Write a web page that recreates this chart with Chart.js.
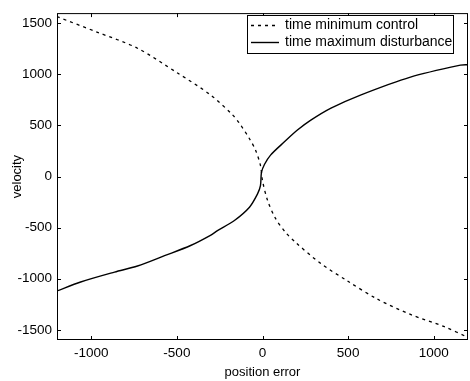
<!DOCTYPE html>
<html lang="en">
<head>
    <meta charset="UTF-8">
    <title>position error vs velocity</title>
    <style>
        body {
            margin: 0;
            padding: 0;
            background-color: #fff;
        }

        #wrap {
            width: 470px;
            height: 381px;
        }
    </style>
    <script src="https://cdn.jsdelivr.net/npm/chart.js"></script>
</head>
<body>

<div id="wrap">
    <canvas id="phaseChart" width="470" height="381"></canvas>
</div>

<script>
    // time minimum control (dashed)
    const minCtrlPos = [-1200, -963, -730, -496, -304, -175, -134, -76, -41, -12, 0, 29, 76, 134, 190, 339, 496, 671, 864, 1062, 1200];
    const minCtrlVel = [1565, 1412, 1256, 1013, 800, 604, 520, 370, 260, 110, -40, -230, -410, -545, -640, -850, -1022, -1200, -1350, -1470, -1575];

    // time maximum disturbance (solid)
    const maxDistPos = [-1200, -1062, -864, -730, -572, -420, -304, -263, -164, -76, -29, -12, -6, 12, 47, 128, 204, 280, 400, 572, 864, 1156, 1200];
    const maxDistVel = [-1120, -1032, -935, -876, -775, -675, -575, -530, -430, -300, -170, -90, 40, 120, 210, 340, 455, 550, 670, 798, 974, 1091, 1095];

    const seriesLabels = ['time minimum control', 'time maximum disturbance'];
    const xTicks = [-1000, -500, 0, 500, 1000];
    const yTicks = [-1500, -1000, -500, 0, 500, 1000, 1500];

    const FONT = '"Liberation Sans", Arial, sans-serif';

    function toPoints(xs, ys) {
        return xs.map(function (x, i) { return { x: x, y: ys[i] }; });
    }

    function plainLabel(value) {
        return String(value);
    }

    // MATLAB-ish box with inward ticks on all four sides
    const boxPlugin = {
        id: 'boxTicks',
        afterDraw: function (chart) {
            const ctx = chart.ctx;
            const a = chart.chartArea;
            const xs = chart.scales.x;
            const ys = chart.scales.y;
            const len = 4;
            ctx.save();
            ctx.strokeStyle = '#000';
            ctx.lineWidth = 1;
            ctx.strokeRect(a.left + 0.5, a.top + 0.5, a.right - a.left - 1, a.bottom - a.top - 1);
            ctx.beginPath();
            xTicks.forEach(function (v) {
                const px = Math.round(xs.getPixelForValue(v)) + 0.5;
                ctx.moveTo(px, a.bottom);
                ctx.lineTo(px, a.bottom - len);
                ctx.moveTo(px, a.top);
                ctx.lineTo(px, a.top + len);
            });
            yTicks.forEach(function (v) {
                const py = Math.round(ys.getPixelForValue(v)) + 0.5;
                ctx.moveTo(a.left, py);
                ctx.lineTo(a.left + len, py);
                ctx.moveTo(a.right, py);
                ctx.lineTo(a.right - len, py);
            });
            ctx.stroke();

            // legend box inside the plot, top right
            const lx = 247, ly = 15, lw = 206, lh = 38;
            ctx.fillStyle = '#fff';
            ctx.fillRect(lx, ly, lw, lh);
            ctx.strokeRect(lx + 0.5, ly + 0.5, lw, lh);
            ctx.font = '14px ' + FONT;
            ctx.textBaseline = 'middle';
            ctx.textAlign = 'left';
            chart.data.datasets.forEach(function (ds, i) {
                const rowY = ly + 10 + i * 17;
                ctx.beginPath();
                ctx.setLineDash(ds.borderDash || []);
                ctx.lineWidth = ds.borderWidth;
                ctx.strokeStyle = ds.borderColor;
                ctx.moveTo(251, rowY + 0.5);
                ctx.lineTo(279, rowY + 0.5);
                ctx.stroke();
                ctx.setLineDash([]);
                ctx.fillStyle = '#000';
                ctx.fillText(ds.label, 285, rowY);
            });
            ctx.restore();
        }
    };

    const ctx = document.getElementById('phaseChart').getContext('2d');
    const phaseChart = new Chart(ctx, {
        type: 'scatter',
        data: {
            datasets: [{
                label: seriesLabels[0],
                data: toPoints(minCtrlPos, minCtrlVel),
                showLine: true,
                borderColor: '#000',
                borderWidth: 1.3,
                borderDash: [3, 4],
                pointRadius: 0,
                tension: 0.3
            }, {
                label: seriesLabels[1],
                data: toPoints(maxDistPos, maxDistVel),
                showLine: true,
                borderColor: '#000',
                borderWidth: 1.4,
                pointRadius: 0,
                tension: 0.3
            }]
        },
        options: {
            responsive: false,
            animation: false,
            layout: {
                padding: { left: 0, right: 2, top: 9, bottom: 0 }
            },
            plugins: {
                legend: { display: false },
                tooltip: { enabled: false }
            },
            scales: {
                x: {
                    type: 'linear',
                    min: -1200,
                    max: 1200,
                    grid: { display: false, drawTicks: false },
                    border: { display: false },
                    afterBuildTicks: function (scale) {
                        scale.ticks = xTicks.map(function (v) { return { value: v }; });
                    },
                    afterFit: function (scale) {
                        scale.height = 41;
                    },
                    ticks: {
                        color: '#000',
                        padding: 5,
                        maxRotation: 0,
                        callback: plainLabel,
                        font: { family: FONT, size: 13.5 }
                    },
                    title: {
                        display: true,
                        text: 'position error',
                        color: '#000',
                        padding: { top: 0, bottom: 1 },
                        font: { family: FONT, size: 13 }
                    }
                },
                y: {
                    type: 'linear',
                    min: -1600,
                    max: 1600,
                    grid: { display: false, drawTicks: false },
                    border: { display: false },
                    afterBuildTicks: function (scale) {
                        scale.ticks = yTicks.map(function (v) { return { value: v }; });
                    },
                    afterFit: function (scale) {
                        scale.width = 57;
                    },
                    ticks: {
                        color: '#000',
                        padding: 5,
                        callback: plainLabel,
                        font: { family: FONT, size: 13.5 }
                    },
                    title: {
                        display: true,
                        text: 'velocity',
                        color: '#000',
                        padding: { top: 10, bottom: 0 },
                        font: { family: FONT, size: 13 }
                    }
                }
            }
        },
        plugins: [boxPlugin]
    });
</script>

</body>
</html>
